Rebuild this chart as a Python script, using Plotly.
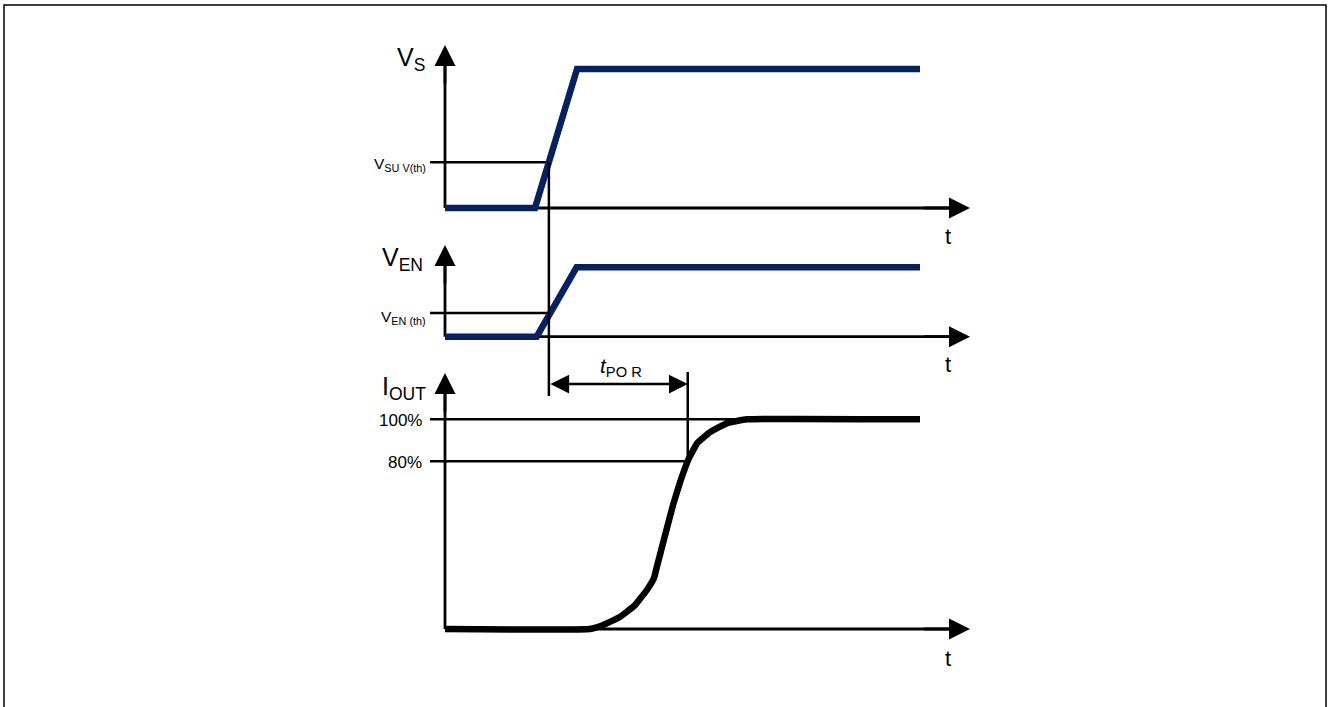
import numpy as np
import plotly.graph_objects as go

# ---------------- data (time in diagram units, levels normalised) ----------------
t_vs = [0.0, 1.895, 2.78, 10.0]
vs_level = [0.0, 0.0, 1.0, 1.0]
vs_threshold = 0.33

t_en = [0.0, 1.93, 2.77, 10.0]
en_level = [0.0, 0.0, 1.0, 1.0]
en_threshold = 0.34

t_iout = [0.0, 3.05, 3.33, 3.68, 4.0, 4.25, 4.4, 4.46, 4.8, 4.95, 5.12, 5.31, 5.58, 5.94, 6.36, 10.0]
iout_pct = [0, 0, 1.9, 5.7, 11.4, 18.6, 24.3, 29.6, 59.1, 70.1, 80.6, 88.7, 93.9, 98.2, 100, 100]
iout_marks = [100, 80]
iout_mark_labels = ["100%", "80%"]

# ---------------- layout geometry (pixels of the 1329x707 page) ----------------
W, H = 1329, 707
X0_PX, PX_PER_T = 445.0, 47.5
T_AXIS_END = (970 - X0_PX) / PX_PER_T          # horizontal arrow tips
T_LABEL_LEFT = (430 - X0_PX) / PX_PER_T        # start of reference lines

# panel: (baseline px, px of full-scale level, scale)
P_VS = (208.0, 69.0, 1.0)
P_EN = (336.7, 267.3, 1.0)
P_IO = (629.0, 419.3, 100.0)


def yrange(p):
    base, top, scale = p
    span = base - top
    return [(base - H) / span * scale, base / span * scale]


def lvl(p, py):
    base, top, scale = p
    return (base - py) / (base - top) * scale


def to_paper_y(p, level):
    base, top, scale = p
    py = base - level / scale * (base - top)
    return 1 - py / H


def pxx(x):
    return x / W


def pxy(y):
    return 1 - y / H


NAVY = "#05215f"
BLACK = "#000000"
FONT = "Liberation Sans, Arial, sans-serif"

fig = go.Figure()


def line(x, y, yaxis, color=BLACK, width=2.5):
    fig.add_trace(go.Scatter(x=x, y=y, yaxis=yaxis, mode="lines",
                             line=dict(color=color, width=width),
                             hoverinfo="skip", showlegend=False))


# crossings derived from the data
t_on = float(np.interp(vs_threshold, vs_level[1:3], t_vs[1:3]))
rise = slice(1, 15)
t_por_end = float(np.interp(80, iout_pct[rise], t_iout[rise]))
t_full = t_iout[iout_pct.index(100)]

# --- axes lines ---
for ya, p, tip_py in (("y", P_VS, 45), ("y2", P_EN, 245), ("y3", P_IO, 373)):
    line([0, T_AXIS_END - 0.3], [0, 0], ya, width=2.8)
    line([0, 0], [0, lvl(p, tip_py + 10)], ya, width=2.8)

# --- reference / threshold lines ---
line([T_LABEL_LEFT, t_on], [vs_threshold, vs_threshold], "y")
line([T_LABEL_LEFT, t_on], [en_threshold, en_threshold], "y2")
line([T_LABEL_LEFT, t_full], [iout_marks[0]] * 2, "y3")
line([T_LABEL_LEFT, t_por_end], [iout_marks[1]] * 2, "y3")
line([t_por_end, t_por_end], [iout_marks[1], lvl(P_IO, 372)], "y3")

# vertical line from VS threshold crossing down through EN panel
fig.add_shape(type="line", xref="x", yref="paper",
              x0=t_on, x1=t_on,
              y0=to_paper_y(P_VS, vs_threshold), y1=pxy(396),
              line=dict(color=BLACK, width=2.5))

# --- waveforms ---
line(t_vs, vs_level, "y", color=NAVY, width=6.5)
line(t_en, en_level, "y2", color=NAVY, width=6.5)
fig.add_trace(go.Scatter(x=t_iout, y=iout_pct, yaxis="y3", mode="lines",
                         line=dict(color=BLACK, width=6.5, shape="spline", smoothing=0.3),
                         hoverinfo="skip", showlegend=False))

annotations = []

# arrow heads on axes
for ya, p, tip_py in (("y", P_VS, 45), ("y2", P_EN, 245), ("y3", P_IO, 373)):
    annotations.append(dict(x=T_AXIS_END, y=0, ax=T_AXIS_END - 1.0, ay=0,
                            xref="x", yref=ya, axref="x", ayref=ya, text="",
                            showarrow=True, arrowhead=2, arrowsize=1.5,
                            arrowwidth=2.8, arrowcolor=BLACK))
    annotations.append(dict(x=0, y=lvl(p, tip_py), ax=0, ay=lvl(p, tip_py + 40),
                            xref="x", yref=ya, axref="x", ayref=ya, text="",
                            showarrow=True, arrowhead=2, arrowsize=1.5,
                            arrowwidth=2.8, arrowcolor=BLACK))

# tPOR double arrow
y_por = lvl(P_IO, 384)
annotations.append(dict(x=t_por_end, y=y_por, ax=t_on, ay=y_por,
                        xref="x", yref="y3", axref="x", ayref="y3", text="",
                        showarrow=True, arrowhead=2, arrowsize=1.5,
                        startarrowhead=2, startarrowsize=1.5, arrowside="end+start",
                        arrowwidth=2.5, arrowcolor=BLACK))


def label(text, x, y, size, xanchor="right", yanchor="middle"):
    annotations.append(dict(text=text, x=pxx(x), y=pxy(y), xref="paper", yref="paper",
                            showarrow=False, xanchor=xanchor, yanchor=yanchor,
                            font=dict(family=FONT, size=size, color=BLACK)))


label("V<sub>S</sub>", 427, 59, 25)
label("V<sub>SU V(th)</sub>", 428, 165, 15.5)
label("V<sub>EN</sub>", 425, 259, 25)
label("V<sub>EN (th)</sub>", 428, 317, 15.5)
label("I<sub>OUT</sub>", 428, 388, 25)
for v, txt in zip(iout_marks, iout_mark_labels):
    label(txt, 424, 1 + H * (1 - to_paper_y(P_IO, v)), 17)
label("<i>t</i><sub>PO R</sub>", 621, 382, 21, xanchor="center", yanchor="bottom")
for ty in (237, 365, 658):
    label("t", 948, ty, 22, xanchor="center")

fig.update_layout(
    width=W, height=H,
    margin=dict(l=0, r=0, t=0, b=0),
    paper_bgcolor="white", plot_bgcolor="white",
    showlegend=False,
    annotations=annotations,
    xaxis=dict(range=[-X0_PX / PX_PER_T, (W - X0_PX) / PX_PER_T], visible=False,
               domain=[0, 1], fixedrange=True),
    yaxis=dict(range=yrange(P_VS), visible=False, domain=[0, 1], fixedrange=True),
    yaxis2=dict(range=yrange(P_EN), visible=False, overlaying="y", fixedrange=True),
    yaxis3=dict(range=yrange(P_IO), visible=False, overlaying="y", fixedrange=True),
)

# outer frame
fig.add_shape(type="rect", xref="paper", yref="paper",
              x0=pxx(4), x1=pxx(1326), y0=pxy(712), y1=pxy(5),
              line=dict(color=BLACK, width=1.5), fillcolor="rgba(0,0,0,0)", layer="above")

fig.write_html("out.html", config={"displayModeBar": False},
               post_script="document.body.style.margin='0';document.body.style.overflow='hidden';")
